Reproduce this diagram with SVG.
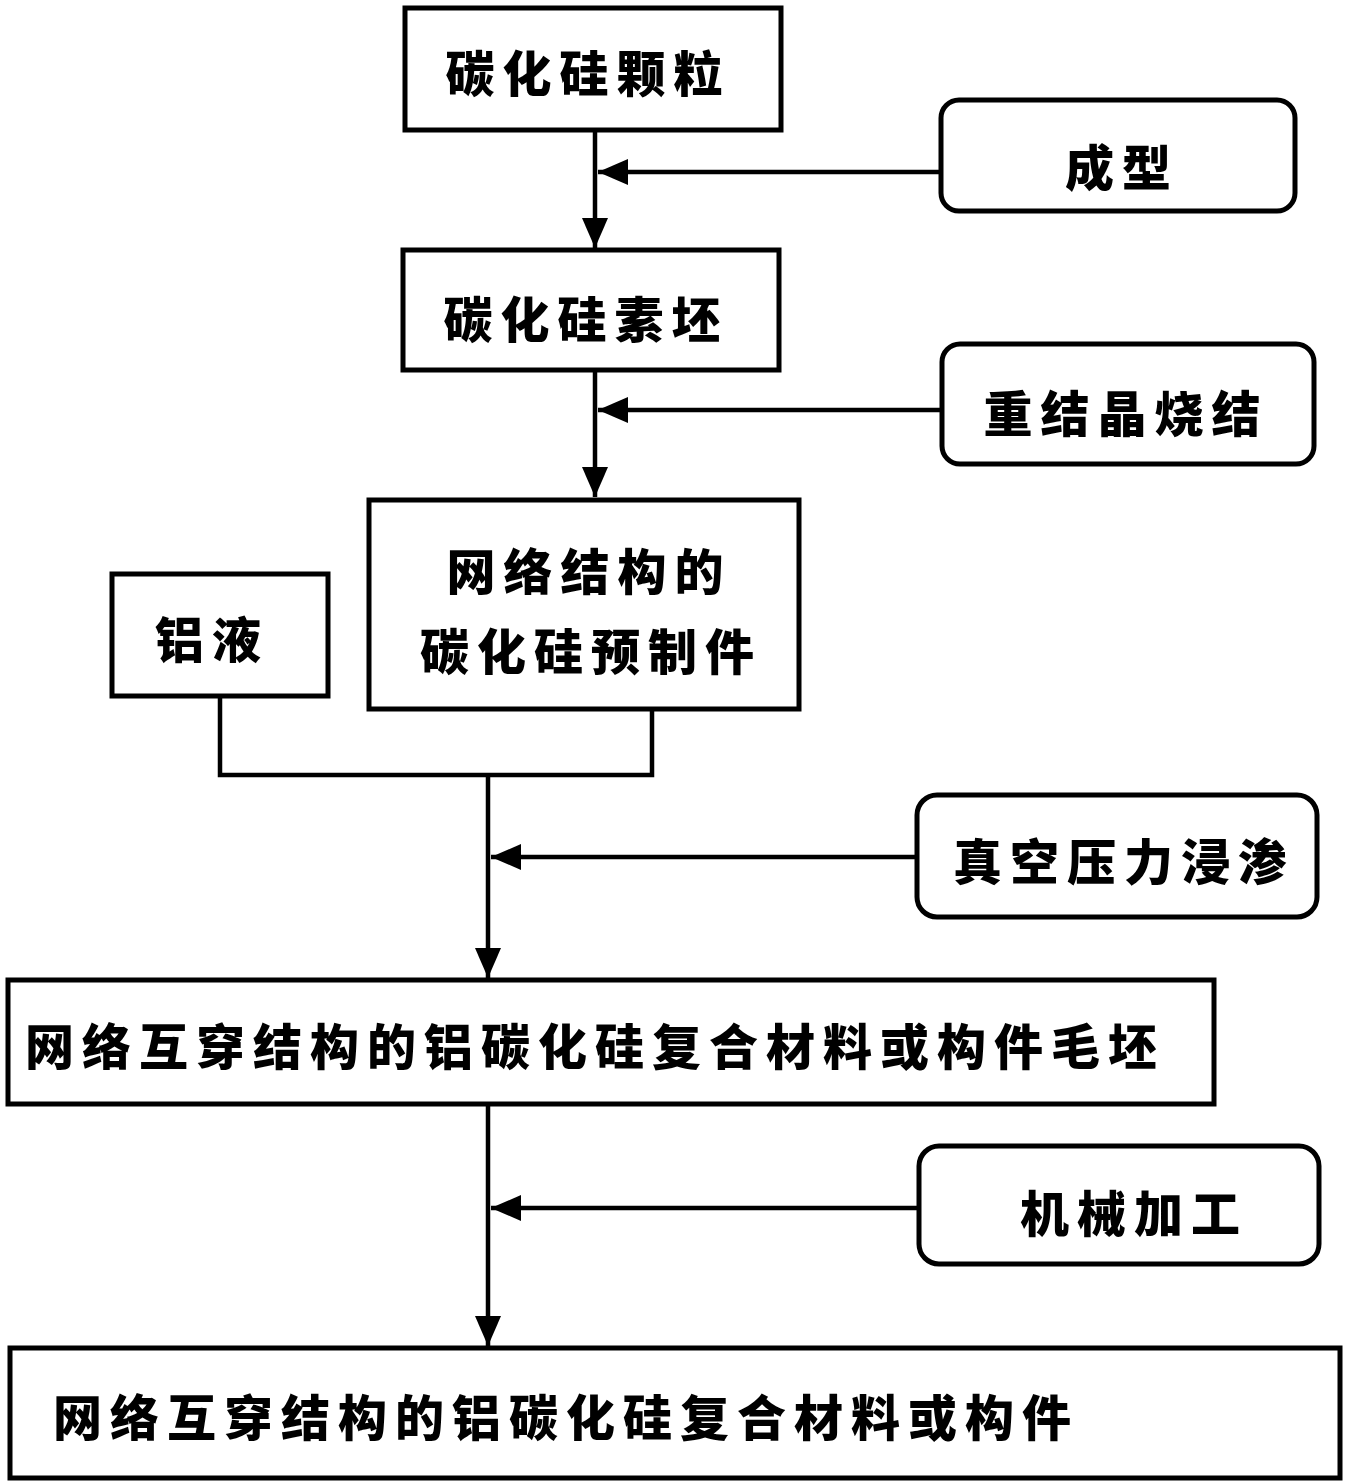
<svg xmlns="http://www.w3.org/2000/svg" width="1352" height="1482" viewBox="0 0 1352 1482">
  <style>
    .box { fill: #ffffff; stroke: #000000; stroke-width: 5; }
    .lbl { font-family: "Noto Sans CJK SC", "Noto Sans CJK JP", sans-serif; font-weight: 900; font-size: 49px; fill: #000000; text-anchor: middle; dominant-baseline: central; letter-spacing: 8px; }
    .wire { fill: none; stroke: #000000; stroke-width: 4.5; }
  </style>
  <defs>
    <marker id="arr" markerUnits="userSpaceOnUse" markerWidth="32" markerHeight="26" refX="30" refY="13" orient="auto">
      <path d="M0,0 L30,13 L0,26 Z" fill="#000000"/>
    </marker>
  </defs>
  <rect width="1352" height="1482" fill="#ffffff"/>

  <g id="connectors">
    <line class="wire" x1="595" y1="130" x2="595" y2="248" marker-end="url(#arr)"/>
    <line class="wire" x1="941" y1="172" x2="598" y2="172" marker-end="url(#arr)"/>
    <line class="wire" x1="595" y1="370" x2="595" y2="497" marker-end="url(#arr)"/>
    <line class="wire" x1="942" y1="410" x2="598" y2="410" marker-end="url(#arr)"/>
    <path class="wire" d="M220,696 V775 H652 V709"/>
    <line class="wire" x1="488" y1="775" x2="488" y2="978" marker-end="url(#arr)"/>
    <line class="wire" x1="917" y1="857" x2="491" y2="857" marker-end="url(#arr)"/>
    <line class="wire" x1="488" y1="1104" x2="488" y2="1346" marker-end="url(#arr)"/>
    <line class="wire" x1="919" y1="1208" x2="491" y2="1208" marker-end="url(#arr)"/>
  </g>

  <g id="n1">
    <rect class="box" x="405" y="8" width="376" height="122"/>
    <text class="lbl" x="588" y="70">碳化硅颗粒</text>
  </g>
  <g id="n2">
    <rect class="box" x="941" y="100" width="354" height="111" rx="18"/>
    <text class="lbl" x="1122" y="164">成型</text>
  </g>
  <g id="n3">
    <rect class="box" x="403" y="250" width="376" height="120"/>
    <text class="lbl" x="586" y="316">碳化硅素坯</text>
  </g>
  <g id="n4">
    <rect class="box" x="942" y="344" width="372" height="120" rx="18"/>
    <text class="lbl" x="1126" y="410">重结晶烧结</text>
  </g>
  <g id="n5">
    <rect class="box" x="369" y="500" width="430" height="209"/>
    <text class="lbl" x="589" y="568">网络结构的</text>
    <text class="lbl" x="591" y="648">碳化硅预制件</text>
  </g>
  <g id="n6">
    <rect class="box" x="112" y="574" width="216" height="122"/>
    <text class="lbl" x="212" y="636">铝液</text>
  </g>
  <g id="n7">
    <rect class="box" x="917" y="795" width="400" height="122" rx="20"/>
    <text class="lbl" x="1124" y="858">真空压力浸渗</text>
  </g>
  <g id="n8">
    <rect class="box" x="8" y="980" width="1206" height="124"/>
    <text class="lbl" x="595" y="1043">网络互穿结构的铝碳化硅复合材料或构件毛坯</text>
  </g>
  <g id="n9">
    <rect class="box" x="919" y="1146" width="400" height="118" rx="20"/>
    <text class="lbl" x="1134" y="1210">机械加工</text>
  </g>
  <g id="n10">
    <rect class="box" x="10" y="1348" width="1330" height="130"/>
    <text class="lbl" x="566" y="1414">网络互穿结构的铝碳化硅复合材料或构件</text>
  </g>
</svg>
